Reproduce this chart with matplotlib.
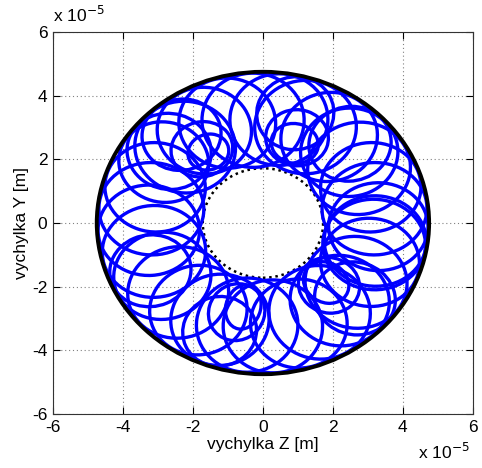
import numpy as np
import matplotlib
matplotlib.use("Agg")
from matplotlib import pyplot as plt
from matplotlib import patches

plt.rcParams['font.family'] = ['Liberation Sans', 'DejaVu Sans']

# all lengths in units of 1e-5 m
R_OUTER = 4.75   # stator clearance circle
R_INNER = 1.72   # inner boundary of the orbit

# orbit loops: centre angle [deg], centre distance,
# radial semi-axis, tangential semi-axis
loop_angle = [-12, -2, 8, 20, 32, 42, 55, 68, 82, 95, 108, 120, 133, 146, 160, 172,
              184, 196, 210, 222, 236, 248, 262, 275, 288, 300, 312, 325, 338, 350,
              45, 75, 130, 140, 205, 250, 318,
              70, 70, 125, 127, 258, 255, 314, 314]
loop_dist = [3.25, 3.30, 3.22, 3.28, 3.24, 3.32, 3.30, 3.25, 3.28, 3.24, 3.30, 3.35, 3.26, 3.42, 3.28, 3.22,
             3.27, 3.24, 3.32, 3.26, 3.30, 3.28, 3.24, 3.26, 3.32, 3.24, 3.28, 3.25, 3.30, 3.26,
             3.52, 3.57, 3.62, 3.50, 3.55, 3.62, 3.54,
             2.66, 2.85, 2.72, 2.90, 2.70, 2.90, 2.72, 2.60]
loop_rad = [1.47, 1.42, 1.50, 1.44, 1.48, 1.40, 1.42, 1.47, 1.44, 1.48, 1.42, 1.37, 1.46, 1.30, 1.44, 1.50,
            1.45, 1.48, 1.40, 1.46, 1.42, 1.44, 1.48, 1.46, 1.40, 1.48, 1.44, 1.47, 1.42, 1.46,
            1.20, 1.15, 1.10, 1.22, 1.17, 1.10, 1.18,
            0.62, 0.88, 0.55, 0.85, 0.70, 0.90, 0.90, 0.70]
loop_tan = [1.42, 1.38, 1.45, 1.40, 1.44, 1.38, 1.36, 1.45, 1.40, 1.46, 1.38, 1.34, 1.42, 1.25, 1.40, 1.45,
            1.42, 1.44, 1.36, 1.42, 1.38, 1.40, 1.45, 1.42, 1.38, 1.44, 1.40, 1.43, 1.38, 1.42,
            1.15, 1.10, 1.15, 1.18, 1.12, 1.05, 1.12,
            0.68, 0.90, 0.60, 0.90, 0.50, 0.80, 0.85, 0.60]

ticks = [-6, -4, -2, 0, 2, 4, 6]

fig = plt.figure(figsize=(4.82, 4.68), dpi=100)
ax = fig.add_axes([0.110, 0.1154, 0.871, 0.8162])

# orbit loops
for th, d, a, b in zip(loop_angle, loop_dist, loop_rad, loop_tan):
    t = np.deg2rad(th)
    e = patches.Ellipse((d * np.cos(t), d * np.sin(t)), 2 * a, 2 * b, angle=th,
                        fill=False, edgecolor='#0000ff', linewidth=2.4, zorder=3)
    ax.add_patch(e)

# boundaries
ax.add_patch(patches.Circle((0, 0), R_OUTER, fill=False, edgecolor='black',
                            linewidth=2.8, zorder=4))
ax.add_patch(patches.Circle((0, 0), R_INNER, fill=False, edgecolor='black',
                            linewidth=1.8, linestyle=(0, (1, 1.5)), zorder=2))

ax.set_xlim(-6, 6)
ax.set_ylim(-6, 6)
ax.set_xticks(ticks)
ax.set_yticks(ticks)
ax.set_xticklabels([str(v) for v in ticks])
ax.set_yticklabels([str(v) for v in ticks])
ax.tick_params(direction='in', top=True, right=True, length=5, labelsize=12.5,
               width=0.8, pad=4)
ax.grid(True, color='#808080', linestyle=(0, (1, 2.5)), linewidth=0.8)
ax.set_axisbelow(True)
for s in ax.spines.values():
    s.set_linewidth(0.8)
    s.set_color('#333333')

ax.set_xlabel('vychylka Z [m]', fontsize=12.5, labelpad=2)
ax.set_ylabel('vychylka Y [m]', fontsize=12.5, labelpad=2)

fig.text(0.110, 0.946, 'x 10$^{-5}$', fontsize=12.5, ha='left', va='bottom')
fig.text(0.975, 0.012, 'x 10$^{-5}$', fontsize=12.5, ha='right', va='bottom')

fig.savefig('out.png', dpi=100)
